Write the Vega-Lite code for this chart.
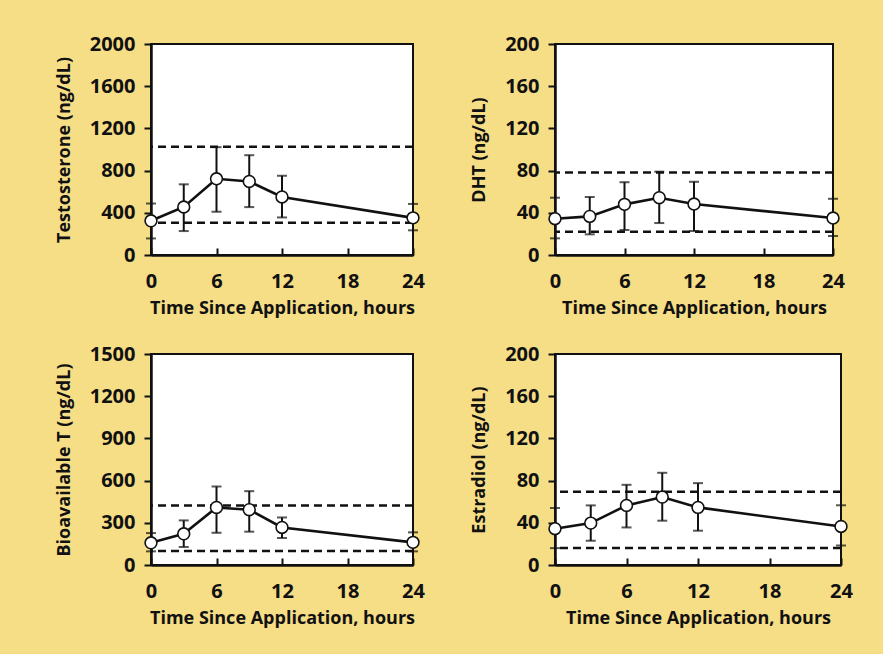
{
  "$schema": "https://vega.github.io/schema/vega-lite/v6.json",
  "background": "#F6DE87",
  "padding": {"left": 54, "top": 33, "right": 29, "bottom": 34},
  "datasets": {
    "pts": [
      {"panel": "T", "t": 0, "mean": 324, "lo": 157, "hi": 488},
      {"panel": "T", "t": 3, "mean": 455, "lo": 227, "hi": 670},
      {"panel": "T", "t": 6, "mean": 722, "lo": 410, "hi": 1022},
      {"panel": "T", "t": 9, "mean": 697, "lo": 454, "hi": 946},
      {"panel": "T", "t": 12, "mean": 550, "lo": 356, "hi": 751},
      {"panel": "T", "t": 24, "mean": 352, "lo": 234, "hi": 484},
      {"panel": "D", "t": 0, "mean": 34.4, "lo": 15.8, "hi": 54.3},
      {"panel": "D", "t": 3, "mean": 36.6, "lo": 19.6, "hi": 55},
      {"panel": "D", "t": 6, "mean": 48, "lo": 23.7, "hi": 69},
      {"panel": "D", "t": 9, "mean": 54.3, "lo": 30.3, "hi": 79},
      {"panel": "D", "t": 12, "mean": 48.3, "lo": 22.7, "hi": 69.4},
      {"panel": "D", "t": 24, "mean": 35, "lo": 18, "hi": 53.3},
      {"panel": "B", "t": 0, "mean": 158, "lo": 97, "hi": 227},
      {"panel": "B", "t": 3, "mean": 222, "lo": 128, "hi": 317},
      {"panel": "B", "t": 6, "mean": 409, "lo": 229, "hi": 558},
      {"panel": "B", "t": 9, "mean": 393, "lo": 237, "hi": 525},
      {"panel": "B", "t": 12, "mean": 267, "lo": 192, "hi": 338},
      {"panel": "B", "t": 24, "mean": 161, "lo": 97, "hi": 232},
      {"panel": "E", "t": 0, "mean": 34.4, "lo": 16, "hi": 54},
      {"panel": "E", "t": 3, "mean": 39.7, "lo": 23, "hi": 56.5},
      {"panel": "E", "t": 6, "mean": 56.5, "lo": 35.6, "hi": 76},
      {"panel": "E", "t": 9, "mean": 64.4, "lo": 42, "hi": 87.4},
      {"panel": "E", "t": 12, "mean": 54.6, "lo": 32.5, "hi": 77.6},
      {"panel": "E", "t": 24, "mean": 36.5, "lo": 18.5, "hi": 56.6}
    ],
    "refs": [
      {"panel": "T", "v": 1025},
      {"panel": "T", "v": 306},
      {"panel": "D", "v": 78.2},
      {"panel": "D", "v": 22},
      {"panel": "B", "v": 423},
      {"panel": "B", "v": 99},
      {"panel": "E", "v": 69.4},
      {"panel": "E", "v": 16.1}
    ]
  },
  "config": {
    "view": {"stroke": "#111111", "strokeWidth": 2, "fill": "white"},
    "axis": {
      "grid": false,
      "domainColor": "#111111", "domainWidth": 2.5,
      "tickColor": "#111111", "tickWidth": 2,
      "labelFont": "Open Sans", "labelFontWeight": "bold", "labelFontSize": 20, "labelColor": "#111111",
      "titleFont": "Open Sans", "titleFontWeight": "bold", "titleFontSize": 18, "titleColor": "#111111"
    },
    "axisX": {"tickSize": -7, "labelPadding": 23, "titlePadding": 8, "labelFlush": false},
    "axisY": {"tickSize": 7, "labelPadding": 9, "titlePadding": 16}
  },
  "spacing": 25,
  "vconcat": [
    {
      "spacing": 43,
      "hconcat": [
        {
          "width": 262, "height": 211,
          "layer": [
            {
              "data": {"name": "refs"}, "transform": [{"filter": "datum.panel === 'T'"}],
              "mark": {"type": "rule", "strokeDash": [8, 5], "strokeWidth": 2.5, "color": "#111111"},
              "encoding": {"y": {"field": "v", "type": "quantitative", "title": "Testosterone (ng/dL)", "scale": {"domain": [0, 2000], "nice": false}, "axis": {"values": [0, 400, 800, 1200, 1600, 2000], "format": "d"}}}
            },
            {
              "data": {"name": "pts"}, "transform": [{"filter": "datum.panel === 'T'"}],
              "mark": {"type": "rule", "strokeWidth": 2, "color": "#111111"},
              "encoding": {
                "x": {"field": "t", "type": "quantitative", "title": "Time Since Application, hours", "scale": {"domain": [0, 24], "nice": false}, "axis": {"values": [0, 6, 12, 18, 24]}},
                "y": {"field": "lo", "type": "quantitative", "title": "Testosterone (ng/dL)"},
                "y2": {"field": "hi"}
              }
            },
            {
              "data": {"name": "pts"}, "transform": [{"filter": "datum.panel === 'T'"}],
              "mark": {"type": "tick", "orient": "horizontal", "size": 10, "thickness": 2, "color": "#111111"},
              "encoding": {
                "x": {"field": "t", "type": "quantitative", "title": "Time Since Application, hours"},
                "y": {"field": "lo", "type": "quantitative", "title": "Testosterone (ng/dL)"}
              }
            },
            {
              "data": {"name": "pts"}, "transform": [{"filter": "datum.panel === 'T'"}],
              "mark": {"type": "tick", "orient": "horizontal", "size": 10, "thickness": 2, "color": "#111111"},
              "encoding": {
                "x": {"field": "t", "type": "quantitative", "title": "Time Since Application, hours"},
                "y": {"field": "hi", "type": "quantitative", "title": "Testosterone (ng/dL)"}
              }
            },
            {
              "data": {"name": "pts"}, "transform": [{"filter": "datum.panel === 'T'"}],
              "mark": {"type": "line", "strokeWidth": 2.6, "color": "#111111"},
              "encoding": {
                "x": {"field": "t", "type": "quantitative", "title": "Time Since Application, hours"},
                "y": {"field": "mean", "type": "quantitative", "title": "Testosterone (ng/dL)"}
              }
            },
            {
              "data": {"name": "pts"}, "transform": [{"filter": "datum.panel === 'T'"}],
              "mark": {"type": "point", "shape": "circle", "filled": true, "fill": "white", "stroke": "#111111", "strokeWidth": 1.6, "size": 140, "opacity": 1},
              "encoding": {
                "x": {"field": "t", "type": "quantitative", "title": "Time Since Application, hours"},
                "y": {"field": "mean", "type": "quantitative", "title": "Testosterone (ng/dL)"}
              }
            }
          ]
        },
        {
          "width": 278, "height": 211,
          "layer": [
            {
              "data": {"name": "refs"}, "transform": [{"filter": "datum.panel === 'D'"}],
              "mark": {"type": "rule", "strokeDash": [8, 5], "strokeWidth": 2.5, "color": "#111111"},
              "encoding": {"y": {"field": "v", "type": "quantitative", "title": "DHT (ng/dL)", "scale": {"domain": [0, 200], "nice": false}, "axis": {"values": [0, 40, 80, 120, 160, 200], "format": "d"}}}
            },
            {
              "data": {"name": "pts"}, "transform": [{"filter": "datum.panel === 'D'"}],
              "mark": {"type": "rule", "strokeWidth": 2, "color": "#111111"},
              "encoding": {
                "x": {"field": "t", "type": "quantitative", "title": "Time Since Application, hours", "scale": {"domain": [0, 24], "nice": false}, "axis": {"values": [0, 6, 12, 18, 24]}},
                "y": {"field": "lo", "type": "quantitative", "title": "DHT (ng/dL)"},
                "y2": {"field": "hi"}
              }
            },
            {
              "data": {"name": "pts"}, "transform": [{"filter": "datum.panel === 'D'"}],
              "mark": {"type": "tick", "orient": "horizontal", "size": 10, "thickness": 2, "color": "#111111"},
              "encoding": {
                "x": {"field": "t", "type": "quantitative", "title": "Time Since Application, hours"},
                "y": {"field": "lo", "type": "quantitative", "title": "DHT (ng/dL)"}
              }
            },
            {
              "data": {"name": "pts"}, "transform": [{"filter": "datum.panel === 'D'"}],
              "mark": {"type": "tick", "orient": "horizontal", "size": 10, "thickness": 2, "color": "#111111"},
              "encoding": {
                "x": {"field": "t", "type": "quantitative", "title": "Time Since Application, hours"},
                "y": {"field": "hi", "type": "quantitative", "title": "DHT (ng/dL)"}
              }
            },
            {
              "data": {"name": "pts"}, "transform": [{"filter": "datum.panel === 'D'"}],
              "mark": {"type": "line", "strokeWidth": 2.6, "color": "#111111"},
              "encoding": {
                "x": {"field": "t", "type": "quantitative", "title": "Time Since Application, hours"},
                "y": {"field": "mean", "type": "quantitative", "title": "DHT (ng/dL)"}
              }
            },
            {
              "data": {"name": "pts"}, "transform": [{"filter": "datum.panel === 'D'"}],
              "mark": {"type": "point", "shape": "circle", "filled": true, "fill": "white", "stroke": "#111111", "strokeWidth": 1.6, "size": 140, "opacity": 1},
              "encoding": {
                "x": {"field": "t", "type": "quantitative", "title": "Time Since Application, hours"},
                "y": {"field": "mean", "type": "quantitative", "title": "DHT (ng/dL)"}
              }
            }
          ]
        }
      ]
    },
    {
      "spacing": 43,
      "hconcat": [
        {
          "width": 262, "height": 211,
          "layer": [
            {
              "data": {"name": "refs"}, "transform": [{"filter": "datum.panel === 'B'"}],
              "mark": {"type": "rule", "strokeDash": [8, 5], "strokeWidth": 2.5, "color": "#111111"},
              "encoding": {"y": {"field": "v", "type": "quantitative", "title": "Bioavailable T (ng/dL)", "scale": {"domain": [0, 1500], "nice": false}, "axis": {"values": [0, 300, 600, 900, 1200, 1500], "format": "d"}}}
            },
            {
              "data": {"name": "pts"}, "transform": [{"filter": "datum.panel === 'B'"}],
              "mark": {"type": "rule", "strokeWidth": 2, "color": "#111111"},
              "encoding": {
                "x": {"field": "t", "type": "quantitative", "title": "Time Since Application, hours", "scale": {"domain": [0, 24], "nice": false}, "axis": {"values": [0, 6, 12, 18, 24]}},
                "y": {"field": "lo", "type": "quantitative", "title": "Bioavailable T (ng/dL)"},
                "y2": {"field": "hi"}
              }
            },
            {
              "data": {"name": "pts"}, "transform": [{"filter": "datum.panel === 'B'"}],
              "mark": {"type": "tick", "orient": "horizontal", "size": 10, "thickness": 2, "color": "#111111"},
              "encoding": {
                "x": {"field": "t", "type": "quantitative", "title": "Time Since Application, hours"},
                "y": {"field": "lo", "type": "quantitative", "title": "Bioavailable T (ng/dL)"}
              }
            },
            {
              "data": {"name": "pts"}, "transform": [{"filter": "datum.panel === 'B'"}],
              "mark": {"type": "tick", "orient": "horizontal", "size": 10, "thickness": 2, "color": "#111111"},
              "encoding": {
                "x": {"field": "t", "type": "quantitative", "title": "Time Since Application, hours"},
                "y": {"field": "hi", "type": "quantitative", "title": "Bioavailable T (ng/dL)"}
              }
            },
            {
              "data": {"name": "pts"}, "transform": [{"filter": "datum.panel === 'B'"}],
              "mark": {"type": "line", "strokeWidth": 2.6, "color": "#111111"},
              "encoding": {
                "x": {"field": "t", "type": "quantitative", "title": "Time Since Application, hours"},
                "y": {"field": "mean", "type": "quantitative", "title": "Bioavailable T (ng/dL)"}
              }
            },
            {
              "data": {"name": "pts"}, "transform": [{"filter": "datum.panel === 'B'"}],
              "mark": {"type": "point", "shape": "circle", "filled": true, "fill": "white", "stroke": "#111111", "strokeWidth": 1.6, "size": 140, "opacity": 1},
              "encoding": {
                "x": {"field": "t", "type": "quantitative", "title": "Time Since Application, hours"},
                "y": {"field": "mean", "type": "quantitative", "title": "Bioavailable T (ng/dL)"}
              }
            }
          ]
        },
        {
          "width": 286, "height": 211,
          "layer": [
            {
              "data": {"name": "refs"}, "transform": [{"filter": "datum.panel === 'E'"}],
              "mark": {"type": "rule", "strokeDash": [8, 5], "strokeWidth": 2.5, "color": "#111111"},
              "encoding": {"y": {"field": "v", "type": "quantitative", "title": "Estradiol  (ng/dL)", "scale": {"domain": [0, 200], "nice": false}, "axis": {"values": [0, 40, 80, 120, 160, 200], "format": "d"}}}
            },
            {
              "data": {"name": "pts"}, "transform": [{"filter": "datum.panel === 'E'"}],
              "mark": {"type": "rule", "strokeWidth": 2, "color": "#111111"},
              "encoding": {
                "x": {"field": "t", "type": "quantitative", "title": "Time Since Application, hours", "scale": {"domain": [0, 24], "nice": false}, "axis": {"values": [0, 6, 12, 18, 24]}},
                "y": {"field": "lo", "type": "quantitative", "title": "Estradiol  (ng/dL)"},
                "y2": {"field": "hi"}
              }
            },
            {
              "data": {"name": "pts"}, "transform": [{"filter": "datum.panel === 'E'"}],
              "mark": {"type": "tick", "orient": "horizontal", "size": 10, "thickness": 2, "color": "#111111"},
              "encoding": {
                "x": {"field": "t", "type": "quantitative", "title": "Time Since Application, hours"},
                "y": {"field": "lo", "type": "quantitative", "title": "Estradiol  (ng/dL)"}
              }
            },
            {
              "data": {"name": "pts"}, "transform": [{"filter": "datum.panel === 'E'"}],
              "mark": {"type": "tick", "orient": "horizontal", "size": 10, "thickness": 2, "color": "#111111"},
              "encoding": {
                "x": {"field": "t", "type": "quantitative", "title": "Time Since Application, hours"},
                "y": {"field": "hi", "type": "quantitative", "title": "Estradiol  (ng/dL)"}
              }
            },
            {
              "data": {"name": "pts"}, "transform": [{"filter": "datum.panel === 'E'"}],
              "mark": {"type": "line", "strokeWidth": 2.6, "color": "#111111"},
              "encoding": {
                "x": {"field": "t", "type": "quantitative", "title": "Time Since Application, hours"},
                "y": {"field": "mean", "type": "quantitative", "title": "Estradiol  (ng/dL)"}
              }
            },
            {
              "data": {"name": "pts"}, "transform": [{"filter": "datum.panel === 'E'"}],
              "mark": {"type": "point", "shape": "circle", "filled": true, "fill": "white", "stroke": "#111111", "strokeWidth": 1.6, "size": 140, "opacity": 1},
              "encoding": {
                "x": {"field": "t", "type": "quantitative", "title": "Time Since Application, hours"},
                "y": {"field": "mean", "type": "quantitative", "title": "Estradiol  (ng/dL)"}
              }
            }
          ]
        }
      ]
    }
  ]
}
